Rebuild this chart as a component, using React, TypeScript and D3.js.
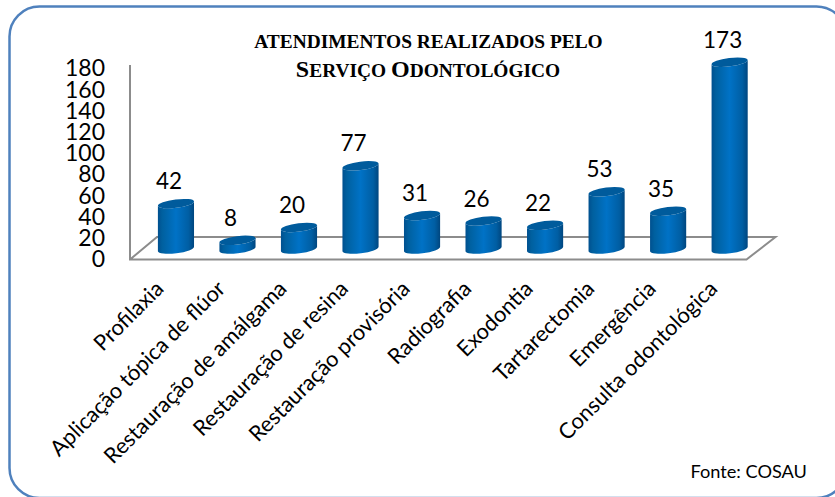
import React from "react";
import * as d3 from "d3";

const categories = ["Profilaxia","Aplicação tópica de flúor","Restauração de amálgama","Restauração de resina","Restauração provisória","Radiografia","Exodontia","Tartarectomia","Emergência","Consulta odontológica"];
const values = [42,8,20,77,31,26,22,53,35,173];
const yTicks = [0,20,40,60,80,100,120,140,160,180];

const W = 835, H = 497;
const x = d3.scaleBand<string>().domain(categories).range([145.2, 760.4]);
const y = d3.scaleLinear().domain([0,180]).range([249, 54.6]);
const yLabel = d3.scaleLinear().domain([0,180]).range([259, 68]);
const SANS = "Lato, Carlito, sans-serif";
const rx = 18.2, ry = 4.2, tilt = -7;
const dx = rx * Math.cos(tilt*Math.PI/180), dy = rx * Math.sin(tilt*Math.PI/180);

function cyl(cx:number, top:number, bot:number){
  const p = d3.path();
  p.moveTo(cx-dx, top-dy);
  p.lineTo(cx-dx, bot-dy);
  const arc = `A${rx} ${ry} ${tilt} 0 0 ${cx+dx} ${bot+dy}`;
  return `${p.toString()}${arc}L${cx+dx} ${top+dy}A${rx} ${ry} ${tilt} 0 1 ${cx-dx} ${top-dy}Z`;
}

export default function App(){
  return (
    <svg width={W} height={H} style={{position:"absolute",left:0,top:0,background:"#fff"}}>
      <defs>
        <linearGradient id="barG" x1="0" x2="1" y1="0" y2="0">
          <stop offset="0" stopColor="#00508f"/>
          <stop offset="0.12" stopColor="#00609f"/>
          <stop offset="0.5" stopColor="#0072c6"/>
          <stop offset="0.85" stopColor="#005ea3"/>
          <stop offset="1" stopColor="#00467f"/>
        </linearGradient>
      </defs>
      <rect x={9.5} y={6.5} width={837} height={491.5} rx={30} ry={30} fill="#fff" stroke="#4f81bd" strokeWidth={2.5}/>
      <path d="M130 65V259.5H746.5L775.5 237H157L130 259.5" fill="none" stroke="#8c8c8c" strokeWidth={2}/>
      <text x={428.5} y={48} textAnchor="middle" fontFamily="'Liberation Serif',serif" fontWeight="bold" fontSize={19.4} fill="#000">ATENDIMENTOS REALIZADOS PELO</text>
      <text x={428} y={77} textAnchor="middle" fontFamily="'Liberation Serif',serif" fontWeight="bold" fontSize={19.4} fill="#000">
        <tspan fontSize={24}>S</tspan>ERVIÇO <tspan fontSize={24}>O</tspan>DONTOLÓGICO
      </text>
      {yTicks.map(t=>(
        <text key={t} x={105} y={yLabel(t)} dy="0.36em" textAnchor="end" fontFamily={SANS} fontSize={23} fill="#000">{t}</text>
      ))}
      {categories.map((c,i)=>{
        const cx = x(c)! + x.bandwidth()/2;
        const top = y(values[i]), bot = y(0);
        return (
          <g key={c}>
            <path d={cyl(cx,top,bot)} fill="url(#barG)"/>
            <ellipse cx={cx} cy={top} rx={rx} ry={ry} fill="#005b9c" transform={`rotate(${tilt} ${cx} ${top})`}/>
            <text x={cx-7} y={top-22.5} dy="0.36em" textAnchor="middle" fontFamily={SANS} fontSize={22.5} fill="#000">{values[i]}</text>
            <text transform={`translate(${cx-17} ${284}) rotate(-45)`} textAnchor="end" dominantBaseline="central" fontFamily={SANS} fontSize={21.8} fill="#000">{c}</text>
          </g>
        );
      })}
      <text x={807} y={478} textAnchor="end" fontFamily={SANS} fontSize={18.2} fill="#000">Fonte: COSAU</text>
    </svg>
  );
}
